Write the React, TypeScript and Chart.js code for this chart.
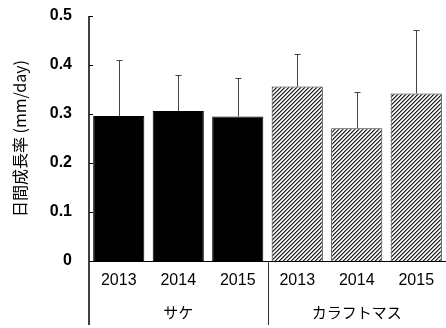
import { useEffect, useRef } from 'react';
import { Chart, registerables } from 'chart.js';

Chart.register(...registerables);

const years = ['2013', '2014', '2015', '2013', '2014', '2015'];
const groups = ['サケ', 'カラフトマス'];
const groupSizes = [3, 3];
const means = [0.296, 0.306, 0.295, 0.356, 0.271, 0.342];
const sds = [0.115, 0.073, 0.079, 0.066, 0.073, 0.129];
const hatched = [false, false, false, true, true, true];
const yTitle = '日間成長率 (mm/day)';

const LATIN = '"Liberation Sans", Arial, sans-serif';
const CJK = '"Noto Sans CJK JP", sans-serif';

function makeHatch(): CanvasPattern | string {
  const c = document.createElement('canvas');
  c.width = 4;
  c.height = 4;
  const g = c.getContext('2d');
  if (!g) return '#888';
  g.fillStyle = '#fff';
  g.fillRect(0, 0, 4, 4);
  for (let i = 0; i < 4; i++) {
    g.fillStyle = '#262626';
    g.fillRect(i, 3 - i, 1, 1);
    g.fillStyle = '#808080';
    g.fillRect(i, (4 - i) % 4, 1, 1);
    g.fillStyle = '#d8d8d8';
    g.fillRect(i, (6 - i) % 4, 1, 1);
  }
  return g.createPattern(c, 'repeat') || '#888';
}

const deco = {
  id: 'deco',
  beforeDatasetsDraw(chart: any) {
    const { ctx, scales, chartArea } = chart;
    const y = scales.y;
    ctx.save();
    ctx.strokeStyle = '#000';
    ctx.lineWidth = 1;
    y.ticks.forEach((t: any) => {
      const py = Math.round(y.getPixelForValue(t.value)) + 0.5;
      ctx.beginPath();
      ctx.moveTo(chartArea.left, py);
      ctx.lineTo(chartArea.left + 4, py);
      ctx.stroke();
    });
    ctx.restore();
  },
  afterDatasetsDraw(chart: any) {
    const { ctx, scales } = chart;
    const y = scales.y;
    const meta = chart.getDatasetMeta(0);
    ctx.save();
    ctx.strokeStyle = '#444';
    ctx.lineWidth = 1;
    meta.data.forEach((el: any, i: number) => {
      const px = Math.round(el.x) + 0.5;
      const top = el.y;
      const ey = Math.round(y.getPixelForValue(means[i] + sds[i])) + 0.5;
      ctx.beginPath();
      ctx.moveTo(px, top);
      ctx.lineTo(px, ey);
      ctx.moveTo(px - 3, ey);
      ctx.lineTo(px + 3, ey);
      ctx.stroke();
    });
    ctx.restore();
  },
  afterDraw(chart: any) {
    const { ctx, scales, chartArea } = chart;
    const x = scales.x;
    const bottom = 325;
    ctx.save();
    ctx.strokeStyle = '#000';
    ctx.lineWidth = 1.5;
    const ax = chartArea.left;
    ctx.beginPath();
    ctx.moveTo(ax, chartArea.top);
    ctx.lineTo(ax, bottom);
    ctx.stroke();
    ctx.lineWidth = 1;
    ctx.strokeStyle = '#333';
    let s = 0;
    ctx.font = '15px ' + CJK;
    ctx.fillStyle = '#000';
    ctx.textAlign = 'center';
    ctx.textBaseline = 'middle';
    groups.forEach((g, gi) => {
      const n = groupSizes[gi];
      const cx = (x.getPixelForValue(s) + x.getPixelForValue(s + n - 1)) / 2;
      ctx.fillText(g, cx, 312);
      if (gi < groups.length - 1) {
        const sx = Math.round((x.getPixelForValue(s + n - 1) + x.getPixelForValue(s + n)) / 2) + 0.5;
        ctx.beginPath();
        ctx.moveTo(sx, chartArea.bottom);
        ctx.lineTo(sx, bottom);
        ctx.stroke();
      }
      s += n;
    });
    ctx.restore();
  },
};

export default function App() {
  const ref = useRef<HTMLCanvasElement | null>(null);
  useEffect(() => {
    if (!ref.current) return;
    const hatch = makeHatch();
    const chart = new Chart(ref.current, {
      type: 'bar',
      data: {
        labels: years,
        datasets: [
          {
            data: means,
            backgroundColor: hatched.map((h) => (h ? hatch : '#000')) as any,
            borderColor: hatched.map((h) => (h ? '#333' : '#000')),
            borderWidth: 1,
            categoryPercentage: 1,
            barPercentage: 0.86,
          },
        ],
      },
      options: {
        responsive: false,
        animation: false,
        devicePixelRatio: 1,
        layout: { padding: { top: 16, right: 0, left: 0, bottom: 0 } },
        plugins: { legend: { display: false }, tooltip: { enabled: false } },
        scales: {
          x: {
            grid: { display: false, drawTicks: false },
            border: { display: true, color: '#000', width: 1 },
            ticks: { color: '#000', padding: 10, font: { family: LATIN, size: 16 } },
            afterFit: (sc: any) => {
              sc.height = 67;
              sc.paddingLeft = 0;
              sc.paddingRight = 0;
            },
          },
          y: {
            min: 0,
            max: 0.5,
            grid: { display: false, drawTicks: false },
            border: { display: false },
            ticks: {
              stepSize: 0.1,
              color: '#000',
              padding: 17,
              font: { family: LATIN, size: 16, weight: 'bold' },
              callback: (v: any) => (Number(v) === 0 ? '0' : Number(v).toFixed(1)),
            },
            title: {
              display: true,
              text: yTitle,
              color: '#000',
              padding: { top: 10, bottom: 0 },
              font: { family: CJK, size: 16 },
            },
            afterFit: (sc: any) => {
              sc.width = 89;
              sc.paddingTop = 0;
              sc.paddingBottom = 0;
            },
          },
        },
      },
      plugins: [deco],
    });
    return () => chart.destroy();
  }, []);
  return (
    <div style={{ position: 'fixed', left: 0, top: 0, width: 446, height: 328, background: '#fff' }}>
      <canvas ref={ref} width={446} height={328} />
    </div>
  );
}
